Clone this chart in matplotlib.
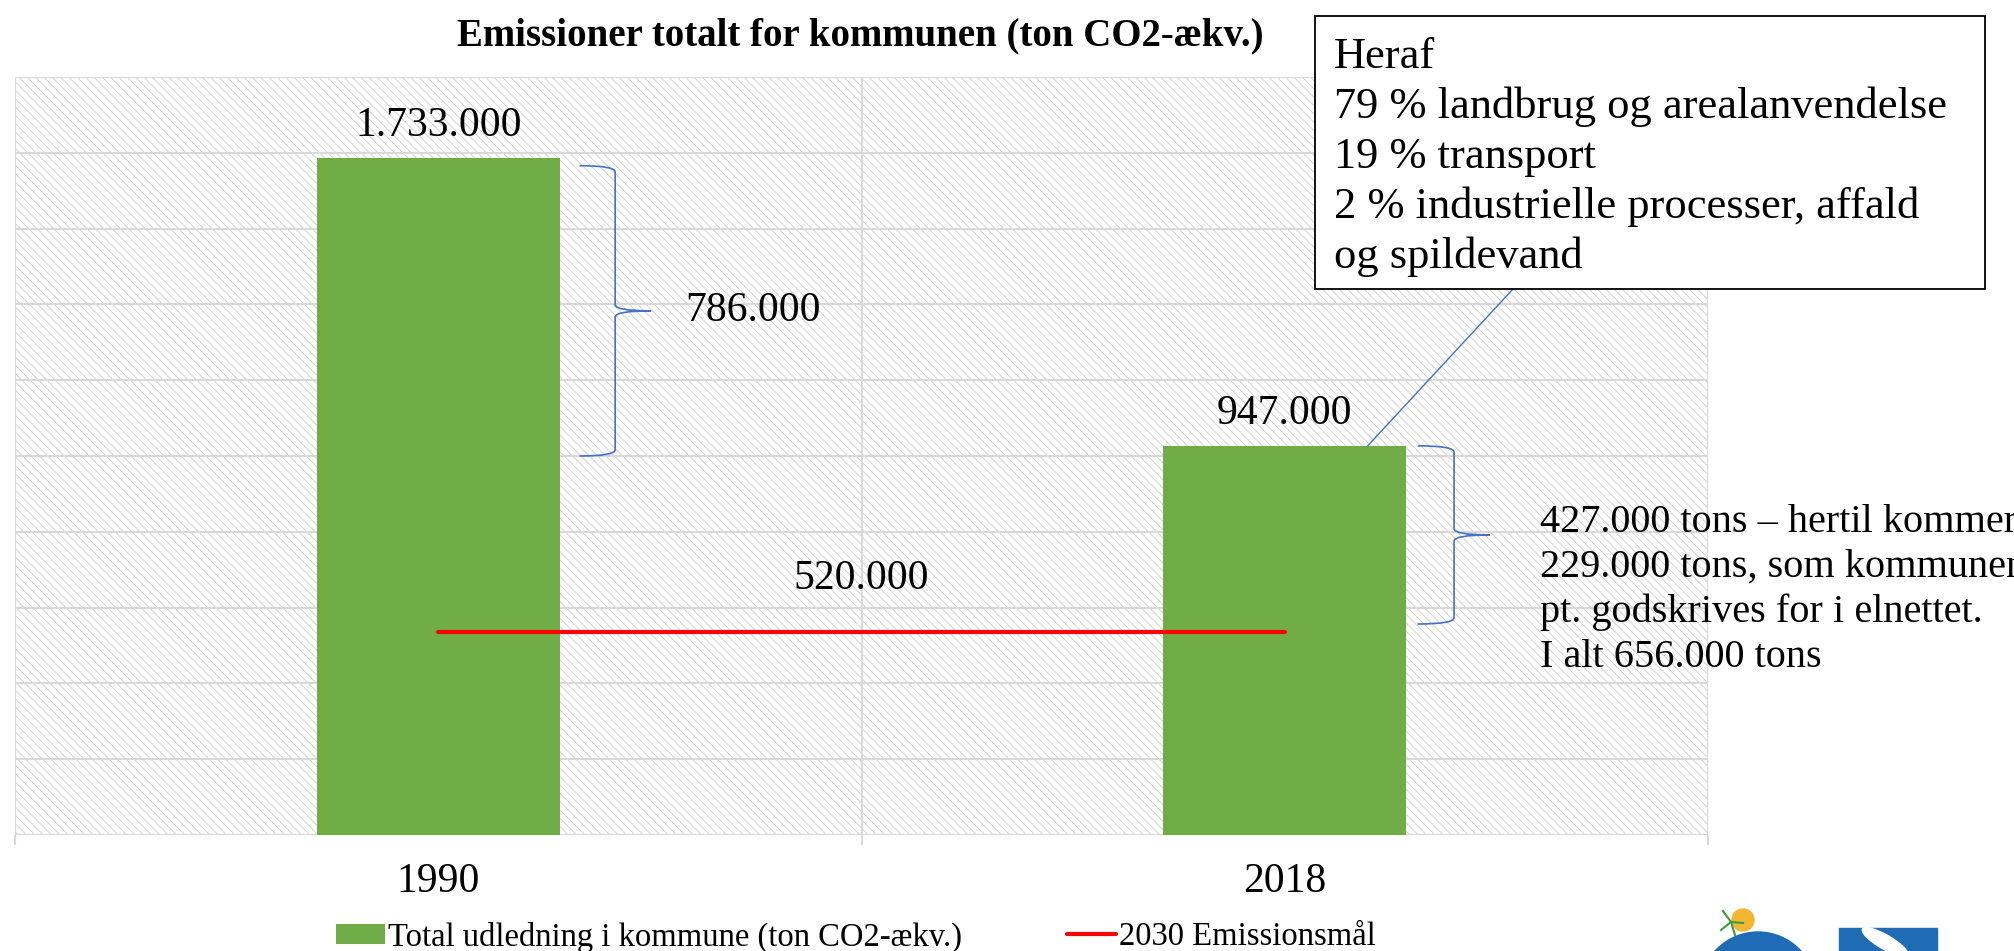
import matplotlib
matplotlib.use('Agg')
import matplotlib.pyplot as plt
from matplotlib.patches import Rectangle, Circle, PathPatch, Wedge, Ellipse, ConnectionPatch
from matplotlib.path import Path

plt.rcParams['font.family'] = ['Liberation Serif', 'DejaVu Serif']
plt.rcParams['hatch.color'] = '#cccccc'
plt.rcParams['hatch.linewidth'] = 0.6

# ---------------- data ----------------
categories = ['1990', '2018']
emissions = [1733000, 996000]
emission_labels = ['1.733.000', '947.000']
target_2030 = [520000, 520000]
target_label = '520.000'
reduction_label = '786.000'
y_max = 1940000
y_step = 194000
title = 'Emissioner totalt for kommunen (ton CO2-ækv.)'
bar_name = 'Total udledning i kommune (ton CO2-ækv.)'
line_name = '2030 Emissionsmål'
box_lines = ['Heraf', '79 % landbrug og arealanvendelse', '19 % transport',
             '2 % industrielle processer, affald', 'og spildevand']
side_lines = ['427.000 tons – hertil kommer', '229.000 tons, som kommunen',
              'pt. godskrives for i elnettet.', 'I alt 656.000 tons']

GREEN = '#70AD47'
BLUE = '#4472C4'
GRID = '#d9d9d9'

W, H = 2014, 951
fig = plt.figure(figsize=(W / 100, H / 100), dpi=100)
fig.patch.set_facecolor('white')

ax = fig.add_axes([15 / W, 1 - 835 / H, (1708 - 15) / W, (835 - 77) / H])
x = list(range(len(categories)))
ax.set_xlim(-0.5, len(categories) - 0.5)
ax.set_ylim(0, y_max)

# hatched plot area background
ax.add_patch(Rectangle((0, 0), 1, 1, transform=ax.transAxes, facecolor='white',
                       edgecolor='#cccccc', hatch='\\\\\\\\', lw=0, zorder=0))
ax.set_axisbelow(True)

bars = ax.bar(x, emissions, width=0.287, color=GREEN, zorder=2, label=bar_name)
line, = ax.plot(x, target_2030, color='#FF0000', lw=3, solid_capstyle='round',
                zorder=3, label=line_name)

# axes styling
for s in ax.spines.values():
    s.set_visible(False)
ax.set_yticks([i * y_step for i in range(int(round(y_max / y_step)) + 1)])
ax.set_yticklabels([])
ax.tick_params(axis='y', length=0)
ax.set_xticks(x)
ax.set_xticklabels(categories, fontsize=30)
ax.set_xticks([-0.5, 0.5, 1.5], minor=True)
ax.tick_params(axis='x', which='major', length=0, pad=20)
ax.tick_params(axis='x', which='minor', length=7, width=1.5, color=GRID, direction='out')
ax.grid(axis='y', which='major', color=GRID, lw=1.5)
ax.grid(axis='x', which='minor', color=GRID, lw=1.5)
ax.axhline(0, color=GRID, lw=1.5, zorder=1)

# value labels
for xi, v, lab in zip(x, emissions, emission_labels):
    ax.annotate(lab, (xi, v), xytext=(0, 23), textcoords='offset points',
                ha='center', va='center', fontsize=30)
ax.annotate(target_label, ((x[0] + x[1]) / 2, target_2030[0]), xytext=(0, 38),
            textcoords='offset points', ha='center', va='center', fontsize=30)


def brace(ax, x_end, x_spine, x_tip, y_top, y_bot, r):
    y_mid = (y_top + y_bot) / 2
    verts = [(x_end, y_top), (x_spine, y_top), (x_spine, y_top - r),
             (x_spine, y_mid + r), (x_spine, y_mid), (x_tip, y_mid),
             (x_spine, y_mid), (x_spine, y_mid - r),
             (x_spine, y_bot + r), (x_spine, y_bot), (x_end, y_bot)]
    codes = [Path.MOVETO, Path.CURVE3, Path.CURVE3, Path.LINETO,
             Path.CURVE3, Path.CURVE3, Path.CURVE3, Path.CURVE3,
             Path.LINETO, Path.CURVE3, Path.CURVE3]
    ax.add_patch(PathPatch(Path(verts, codes), facecolor='none', edgecolor=BLUE,
                           lw=1.2, zorder=4))
    return y_mid


mid1 = brace(ax, 0.167, 0.209, 0.2515, emissions[0] - 20000, emissions[1] - 26000, 16000)
ax.text(0.292, mid1, reduction_label, ha='left', va='center', fontsize=30)
brace(ax, 1.157, 1.2, 1.242, emissions[1], target_2030[1] + 20000, 16000)

# overlay in pixel coordinates
ov = fig.add_axes([0, 0, 1, 1], zorder=10)
ov.set_xlim(0, W)
ov.set_ylim(H, 0)
ov.axis('off')
ov.patch.set_alpha(0)

ov.text(860, 36, title, ha='center', va='center', fontsize=28, fontweight='bold')

# callout line + box
con = ConnectionPatch(xyA=(1.098, emissions[1]), coordsA=ax.transData,
                      xyB=(1513, 289), coordsB=ov.transData, color=BLUE, lw=1.0)
fig.add_artist(con)
ov.add_patch(Rectangle((1315, 16), 670, 273, facecolor='white', edgecolor='black', lw=1.3))
for i, t in enumerate(box_lines):
    ov.text(1334, 68 + 50 * i, t, ha='left', va='baseline', fontsize=32)

for i, t in enumerate(side_lines):
    ov.text(1540, 532 + 45 * i, t, ha='left', va='baseline', fontsize=29, clip_on=False)

# legend
fig.legend(handles=[bars, line], labels=[bar_name, line_name], loc='center',
           bbox_to_anchor=(856 / W, 1 - 937 / H), ncol=2, frameon=False, fontsize=23.5,
           handlelength=1.5, handleheight=0.6, handletextpad=0.1, columnspacing=3.2)

# logos (approximate)
ov.add_patch(Circle((1758, 990), 58, color='#1F6CB4', zorder=2))
ov.add_patch(Wedge((1755, 992), 70, 0, 75, width=6, color='#1F6CB4', zorder=3))
ov.add_patch(Wedge((1755, 992), 64, 0, 75, width=5, color='white', zorder=3))
ov.add_patch(Circle((1743, 920), 11, color='#F2B632', zorder=1))
ov.plot([1731, 1735], [922, 935], color='#3C9A45', lw=1.5)
ov.plot([1731, 1723], [922, 911], color='#3C9A45', lw=1.5)
ov.plot([1731, 1743], [922, 923], color='#3C9A45', lw=1.5)
ov.plot([1731, 1721], [922, 930], color='#3C9A45', lw=1.5)
ov.add_patch(Rectangle((1839, 928), 98, 30, color='#1F6CB4', zorder=2))
ov.add_patch(Ellipse((1885, 942), 52, 14, angle=30, color='white', zorder=3))

fig.savefig('out.png', dpi=100)
